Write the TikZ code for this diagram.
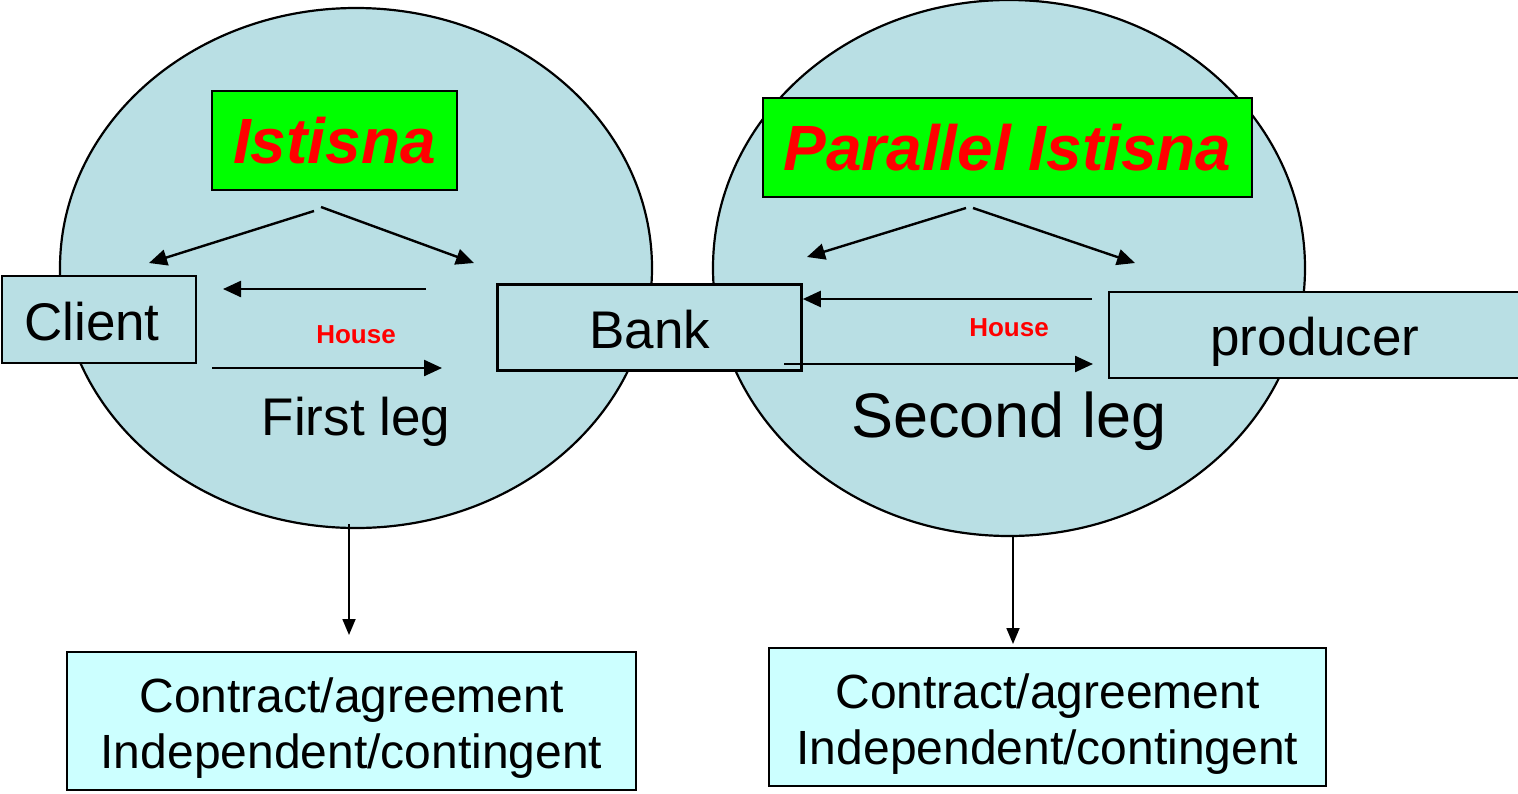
\documentclass[tikz,border=0pt]{standalone}
\usepackage{fontspec}
\setmainfont{Liberation Sans}
\usetikzlibrary{arrows.meta,shapes.geometric}
\definecolor{ellfill}{RGB}{185,223,228}
\definecolor{resfill}{RGB}{204,255,255}
\definecolor{titlegreen}{RGB}{0,255,0}
\definecolor{titlered}{RGB}{255,0,0}
\newcommand\myfs[1]{\fontsize{#1}{#1}\selectfont}
\begin{document}
\begin{tikzpicture}[x=1pt,y=-1pt,
  ell/.style={ellipse, draw, line width=2.2pt, fill=ellfill, inner sep=0pt, outer sep=0pt},
  partybox/.style={rectangle, draw, line width=2.6pt, fill=ellfill, inner sep=0pt},
  titlebox/.style={rectangle, draw, line width=2.6pt, fill=titlegreen, inner sep=0pt,
    text=titlered, font=\myfs{64}\bfseries\itshape},
  resbox/.style={rectangle, draw, line width=2.2pt, fill=resfill, inner sep=0pt},
  lbl/.style={anchor=base, inner sep=0pt},
  housel/.style={anchor=base, inner sep=0pt, text=titlered, font=\myfs{26}\bfseries},
  arr/.style={line width=2.4pt, -{Triangle[length=18pt,width=16pt]}},
  varr/.style={line width=1.8pt, -{Triangle[length=16pt,width=13pt]}}
]
\useasboundingbox (0,0) rectangle (1518,793);
\clip (0,0) rectangle (1518,793);
\fill[white] (0,0) rectangle (1518,793);

% ellipses
\node[ell, minimum width=592pt, minimum height=520pt] (el1) at (356,268) {};
\node[ell, minimum width=592pt, minimum height=536pt] (el2) at (1009,268) {};

% title boxes
\node[titlebox, minimum width=245pt, minimum height=99pt] (t1) at (334.5,140.5) {Istisna};
\node[titlebox, minimum width=489pt, minimum height=99pt] (t2) at (1007.5,147.5) {Parallel Istisna};

% party boxes
\node[partybox, minimum width=194pt, minimum height=87pt] (client) at (99,319.5) {};
\node[partybox, minimum width=304pt, minimum height=86pt] (bank) at (649.5,327.5) {};
\node[partybox, minimum width=431pt, minimum height=86pt] (prod) at (1324.5,335) {};
\node[lbl, font=\myfs{53}] (clientt) at (92,340) {Client};
\node[lbl, font=\myfs{53}] (bankt) at (650,348) {Bank};
\node[lbl, font=\myfs{53}] (prodt) at (1315,355) {producer};

% arrow end points, first leg
\coordinate (l1s) at (314,211);
\coordinate (l1e) at (149,263);
\coordinate (l2s) at (321,207);
\coordinate (l2e) at (474,263);
\coordinate (l3s) at (426,289);
\coordinate (l3e) at (223,289);
\coordinate (l4s) at (212,368);
\coordinate (l4e) at (442,368);
% second leg
\coordinate (r1s) at (966,208);
\coordinate (r1e) at (807,257);
\coordinate (r2s) at (973,208);
\coordinate (r2e) at (1135,263);
\coordinate (r3s) at (1092,299);
\coordinate (r4s) at (784,364);
\coordinate (r4e) at (1093,364);

\draw[arr] (l1s) -- (l1e);
\draw[arr] (l2s) -- (l2e);
\draw[arr] (l3s) -- (l3e);
\draw[arr] (l4s) -- (l4e);
\draw[arr] (r1s) -- (r1e);
\draw[arr] (r2s) -- (r2e);
\draw[arr] (r3s) -- (r3s -| bank.east);
\draw[arr] (r4s) -- (r4e);

\node[housel] (h1) at (356,343) {House};
\node[housel] (h2) at (1009,336) {House};
\node[lbl, font=\myfs{53}] (leg1) at (356,435) {First leg};
\node[lbl, font=\myfs{63}] (leg2) at (1009,437) {Second leg};

% result boxes
\node[resbox, minimum width=569pt, minimum height=138pt] (res1) at (351.5,721) {};
\node[resbox, minimum width=557pt, minimum height=138pt] (res2) at (1047.5,717) {};
\node[lbl, font=\myfs{48}] (res1a) at (351.5,712) {Contract/agreement};
\node[lbl, font=\myfs{48}] (res1b) at (351.5,768) {Independent/contingent};
\node[lbl, font=\myfs{48}] (res2a) at (1047.5,708) {Contract/agreement};
\node[lbl, font=\myfs{48}] (res2b) at (1047.5,764) {Independent/contingent};

% vertical arrows
\coordinate (v1s) at (349,524);
\coordinate (v1e) at (349,635);
\coordinate (v2s) at (1013,535);
\coordinate (v2e) at (1013,644);
\draw[varr] (v1s) -- (v1e);
\draw[varr] (v2s) -- (v2e);
\end{tikzpicture}
\end{document}
